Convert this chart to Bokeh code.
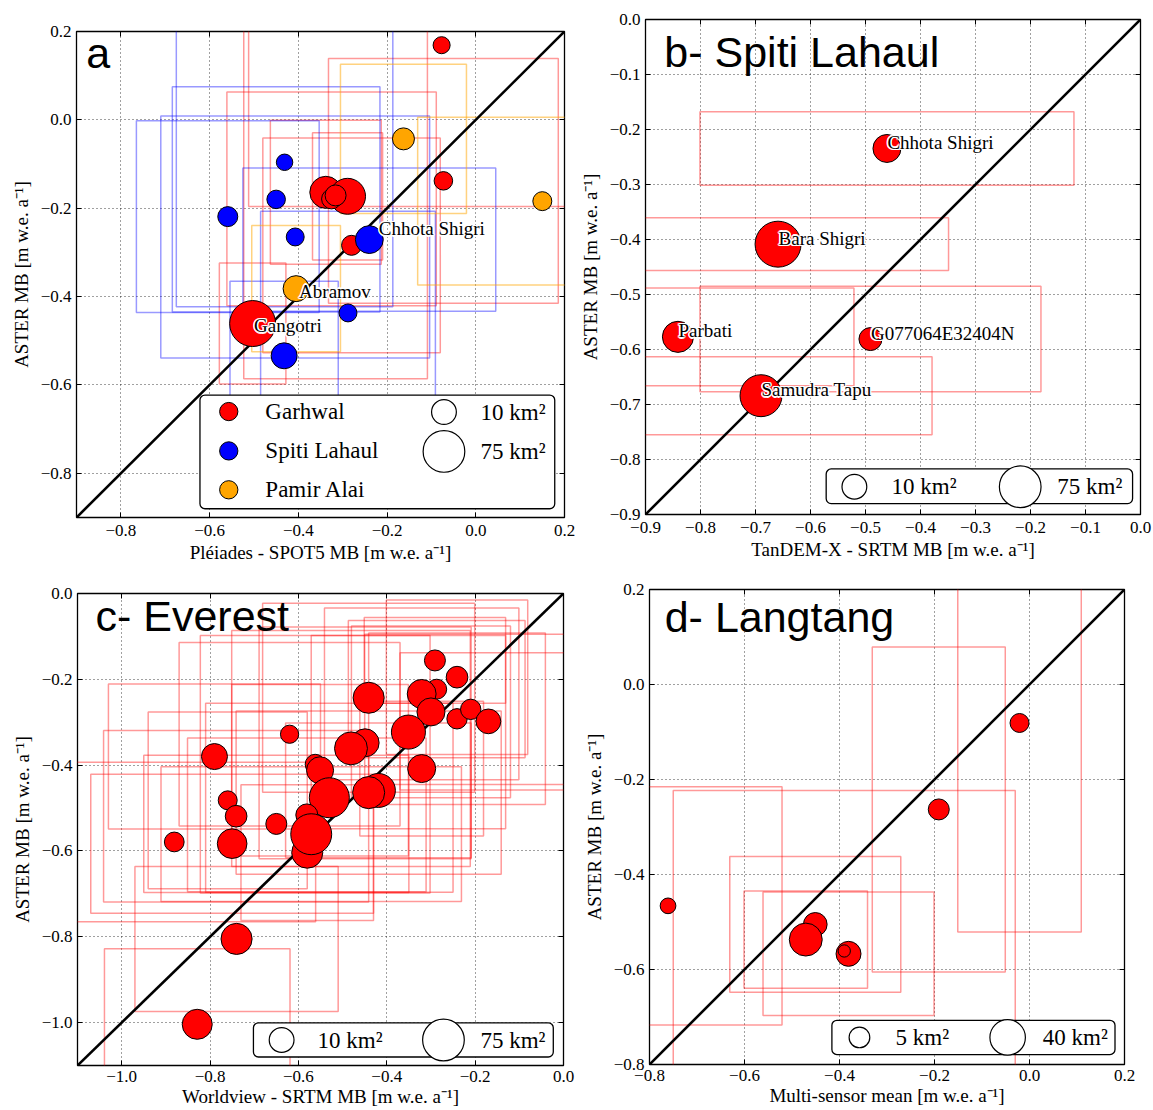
from bokeh.plotting import figure
from bokeh.models import Range1d, FixedTicker, CustomJSTickFormatter, LinearAxis
from bokeh.layouts import column, row
from bokeh.embed import file_html
from bokeh.resources import INLINE
from bokeh.core.properties import value

# ---------------- data ----------------
# (a) Pleiades - SPOT5 vs ASTER, three regions
a_garhwal_x = [-0.077, -0.073, -0.338, -0.289, -0.325, -0.316, -0.280, -0.503]
a_garhwal_y = [0.169, -0.138, -0.164, -0.173, -0.179, -0.171, -0.284, -0.461]
a_garhwal_ex = [0.435, 0.259, 0.125, 0.079, 0.236, 0.207, 0.200, 0.075]
a_garhwal_ey = [0.365, 0.277, 0.163, 0.144, 0.242, 0.415, 0.243, 0.137]
a_garhwal_area = [2.4, 3.3, 27.0, 42.0, 4.4, 5.3, 4.4, 110.0]

a_spiti_x = [-0.431, -0.450, -0.559, -0.407, -0.240, -0.288, -0.432]
a_spiti_y = [-0.096, -0.180, -0.219, -0.265, -0.271, -0.437, -0.534]
a_spiti_ex = [0.244, 0.234, 0.206, 0.303, 0.285, 0.197, 0.122]
a_spiti_ey = [0.327, 0.255, 0.217, 0.274, 0.162, 0.230, 0.169]
a_spiti_area = [2.1, 3.3, 4.4, 2.9, 15.7, 2.9, 12.0]

a_pamir_x = [-0.163, 0.150, -0.405]
a_pamir_y = [-0.043, -0.184, -0.382]
a_pamir_ex = [0.142, 0.281, 0.100]
a_pamir_ey = [0.169, 0.190, 0.143]
a_pamir_area = [6.3, 3.6, 12.0]

a_named = [("Chhota Shigri", "spiti", 4), ("Abramov", "pamir", 2), ("Gangotri", "garhwal", 7)]

# (b) Spiti Lahaul, TanDEM-X - SRTM vs ASTER
b_names = ["Chhota Shigri", "Bara Shigri", "Parbati", "G077064E32404N", "Samudra Tapu"]
b_x = [-0.461, -0.659, -0.841, -0.491, -0.690]
b_y = [-0.2345, -0.4085, -0.577, -0.581, -0.684]
b_ex = [0.340, 0.310, 0.320, 0.310, 0.311]
b_ey = [0.067, 0.048, 0.089, 0.096, 0.071]
b_area = [16.0, 110.0, 24.0, 7.5, 77.0]

# (c) Everest, Worldview - SRTM vs ASTER
c_x = [-0.291, -0.241, -0.287, -0.321, -0.441, -0.300, -0.241, -0.210, -0.170, -0.351,
       -0.620, -0.449, -0.481, -0.321, -0.562, -0.551, -0.419, -0.441, -0.530, -0.650,
       -0.580, -0.581, -0.571, -0.790, -0.760, -0.741, -0.881, -0.750, -0.740, -0.829]
c_y = [-0.156, -0.195, -0.223, -0.234, -0.243, -0.276, -0.292, -0.270, -0.298, -0.323,
       -0.328, -0.348, -0.361, -0.408, -0.398, -0.412, -0.459, -0.464, -0.476, -0.537,
       -0.604, -0.516, -0.561, -0.380, -0.482, -0.519, -0.579, -0.583, -0.805, -1.004]
c_ex = [0.16, 0.16, 0.20, 0.22, 0.24, 0.18, 0.20, 0.24, 0.20, 0.22,
        0.25, 0.24, 0.27, 0.14, 0.26, 0.20, 0.21, 0.30, 0.28, 0.30,
        0.15, 0.27, 0.34, 0.24, 0.18, 0.30, 0.32, 0.32, 0.23, 0.21]
c_ey = [0.100, 0.180, 0.160, 0.200, 0.220, 0.200, 0.200, 0.175, 0.160, 0.225,
        0.214, 0.270, 0.275, 0.157, 0.300, 0.200, 0.157, 0.190, 0.220, 0.160,
        0.158, 0.179, 0.157, 0.169, 0.206, 0.200, 0.186, 0.162, 0.169, 0.176]
c_area = [5.3, 6.0, 4.4, 18.0, 24.0, 16.0, 4.7, 4.7, 10.0, 34.0,
          3.1, 16.0, 30.0, 16.0, 4.4, 14.0, 34.0, 27.0, 64.0, 5.3,
          24.0, 6.3, 70.0, 12.0, 3.6, 6.0, 4.2, 20.0, 24.0, 21.0]

# (d) Langtang, multi-sensor mean vs ASTER
d_x = [-0.761, -0.021, -0.191, -0.451, -0.471, -0.381, -0.390]
d_y = [-0.466, -0.081, -0.263, -0.505, -0.537, -0.567, -0.561]
d_ex = [0.24, 0.13, 0.14, 0.18, 0.13, 0.18, 0.36]
d_ey = [0.251, 0.440, 0.342, 0.143, 0.1025, 0.130, 0.338]
d_area = [1.76, 3.6, 5.3, 8.4, 30.0, 10.3, 0.71]

# axis limits and ticks
a_lim = (-0.9, 0.2)
a_ticks = [-0.8, -0.6, -0.4, -0.2, 0.0, 0.2]
b_lim = (-0.9, 0.0)
b_ticks = [-0.9, -0.8, -0.7, -0.6, -0.5, -0.4, -0.3, -0.2, -0.1, 0.0]
c_lim = (-1.1, 0.0)
c_ticks = [-1.0, -0.8, -0.6, -0.4, -0.2, 0.0]
d_lim = (-0.8, 0.2)
d_ticks = [-0.8, -0.6, -0.4, -0.2, 0.0, 0.2]

y_label = "ASTER MB [m w.e. a\u207b\u00b9]"
a_xlabel = "Pl\u00e9iades - SPOT5 MB [m w.e. a\u207b\u00b9]"
b_xlabel = "TanDEM-X - SRTM MB [m w.e. a\u207b\u00b9]"
c_xlabel = "Worldview - SRTM MB [m w.e. a\u207b\u00b9]"
d_xlabel = "Multi-sensor mean [m w.e. a\u207b\u00b9]"

region_names = ["Garhwal", "Spiti Lahaul", "Pamir Alai"]
legend_areas_large = [10, 75]
legend_areas_small = [5, 40]

# ---------------- styling ----------------
SERIF = "Liberation Serif"
SANS = "Liberation Sans"
RED, BLUE, ORANGE = "#ff0000", "#0000ff", "#ffa500"


def marker_px(area):
    # marker diameter grows with the fourth root of glacier area
    return 14.5 * area ** 0.25 - 1.0


def at(lim, f):
    return lim[0] + f * (lim[1] - lim[0])


TICK_JS = """
const s = Math.abs(tick) < 1e-9 ? "0.0" : tick.toFixed(1);
return s.replace("-", "\u2212");
"""


def build_panel(lim, ticks, xlabel, width, height, borders, x_standoffs=(7, 3)):
    left, right, top, bottom = borders
    p = figure(width=width, height=height,
               x_range=Range1d(*lim), y_range=Range1d(*lim),
               output_backend="svg", toolbar_location=None, tools="",
               title=None,
               min_border_left=left, min_border_right=right,
               min_border_top=top, min_border_bottom=bottom,
               background_fill_color="white", border_fill_color="white")
    p.outline_line_color = "black"
    p.outline_line_width = 1.3
    xt = FixedTicker(ticks=ticks, minor_ticks=[])
    yt = FixedTicker(ticks=ticks, minor_ticks=[])
    fmt = CustomJSTickFormatter(code=TICK_JS)
    blank = CustomJSTickFormatter(code="return '';")
    for ax, t in ((p.xaxis[0], xt), (p.yaxis[0], yt)):
        ax.ticker = t
        ax.formatter = fmt
        ax.major_tick_in = 5
        ax.major_tick_out = 0
        ax.major_tick_line_color = "black"
        ax.minor_tick_line_color = None
        ax.axis_line_color = None
        ax.major_label_text_font = SERIF
        ax.major_label_text_font_size = "17px"
        ax.major_label_text_color = "black"
        ax.axis_label_text_font = SERIF
        ax.axis_label_text_font_size = "19px"
        ax.axis_label_text_font_style = "normal"
        ax.axis_label_text_color = "black"
    p.xaxis.axis_label = xlabel
    p.yaxis.axis_label = y_label
    p.xaxis.major_label_standoff = x_standoffs[0]
    p.xaxis.axis_label_standoff = x_standoffs[1]
    p.yaxis.major_label_standoff = 5
    p.yaxis.axis_label_standoff = 6
    for loc, t in (("above", xt), ("right", yt)):
        ax = LinearAxis(ticker=t, formatter=blank, major_tick_in=5, major_tick_out=0,
                        minor_tick_line_color=None, axis_line_color=None,
                        major_label_standoff=0, major_label_text_font_size="1px")
        p.add_layout(ax, loc)
    p.xgrid.ticker = xt
    p.ygrid.ticker = yt
    p.grid.grid_line_color = "black"
    p.grid.grid_line_dash = "1 3"
    p.grid.grid_line_alpha = 0.75
    p.grid.grid_line_width = 1
    return p


def draw_boxes(p, xs, ys, exs, eys, color, alpha):
    p.quad(left=[x - e for x, e in zip(xs, exs)], right=[x + e for x, e in zip(xs, exs)],
           bottom=[y - e for y, e in zip(ys, eys)], top=[y + e for y, e in zip(ys, eys)],
           fill_color=None, line_color=color, line_alpha=alpha, line_width=1.5)


def draw_points(p, xs, ys, areas, color):
    p.scatter(xs, ys, size=[marker_px(a) for a in areas], marker="circle",
              fill_color=color, line_color="black", line_width=1)


def diagonal(p, lim):
    p.line([lim[0], lim[1]], [lim[0], lim[1]], line_color="black", line_width=2.6)


HALO = [(-1.5, 0), (1.5, 0), (0, -1.5), (0, 1.5), (-1.1, -1.1), (1.1, -1.1), (-1.1, 1.1), (1.1, 1.1)]


def glacier_label(p, x, y, text, dx=0, dy=0):
    for hx, hy in HALO:
        p.text([x], [y], text=[text], x_offset=dx + hx, y_offset=dy + hy,
               text_font=value(SERIF), text_font_size="19px", text_color="white",
               text_align="left", text_baseline="middle")
    p.text([x], [y], text=[text], x_offset=dx, y_offset=dy,
           text_font=value(SERIF), text_font_size="19px", text_color="black",
           text_align="left", text_baseline="middle")


def panel_title(p, lim, fx, fy, text):
    p.text([at(lim, fx)], [at(lim, fy)], text=[text], text_font=value(SANS),
           text_font_size="43px", text_color="black",
           text_align="left", text_baseline="middle")


def legend_box(p, lim, fx0, fx1, fy0, fy1):
    p.quad(left=[at(lim, fx0)], right=[at(lim, fx1)], bottom=[at(lim, fy0)], top=[at(lim, fy1)],
           fill_color="white", line_color="black", line_width=1.3, border_radius=5)


def legend_text(p, lim, fx, fy, text):
    p.text([at(lim, fx)], [at(lim, fy)], text=[text], text_font=value(SERIF),
           text_font_size="23px", text_color="black",
           text_align="left", text_baseline="middle")


def size_legend(p, lim, areas, fy, mfx, tfx):
    for a, mx, tx in zip(areas, mfx, tfx):
        p.scatter([at(lim, mx)], [at(lim, fy)], size=marker_px(a), marker="circle",
                  fill_color="white", line_color="black", line_width=1.2)
        legend_text(p, lim, tx, fy, f"{a} km\u00b2")


# ---------------- panel a ----------------
pa = build_panel(a_lim, a_ticks, a_xlabel, 576, 570, (76, 12, 31, 53))
draw_boxes(pa, a_garhwal_x, a_garhwal_y, a_garhwal_ex, a_garhwal_ey, RED, 0.4)
draw_boxes(pa, a_spiti_x, a_spiti_y, a_spiti_ex, a_spiti_ey, BLUE, 0.4)
draw_boxes(pa, a_pamir_x, a_pamir_y, a_pamir_ex, a_pamir_ey, ORANGE, 0.5)
diagonal(pa, a_lim)
draw_points(pa, a_garhwal_x, a_garhwal_y, a_garhwal_area, RED)
draw_points(pa, a_spiti_x, a_spiti_y, a_spiti_area, BLUE)
draw_points(pa, a_pamir_x, a_pamir_y, a_pamir_area, ORANGE)
a_sets = {"garhwal": (a_garhwal_x, a_garhwal_y), "spiti": (a_spiti_x, a_spiti_y),
          "pamir": (a_pamir_x, a_pamir_y)}
a_label_shift = {"Chhota Shigri": (9.5, -11), "Abramov": (3, 2.5), "Gangotri": (1.5, 2)}
for name, grp, i in a_named:
    xs, ys = a_sets[grp]
    dx, dy = a_label_shift[name]
    glacier_label(pa, xs[i], ys[i], name, dx, dy)
panel_title(pa, a_lim, 0.02, 0.956, "a")
legend_box(pa, a_lim, 0.253, 0.98, 0.018, 0.252)
for name, col, fy in zip(region_names, [RED, BLUE, ORANGE], [0.218, 0.137, 0.057]):
    pa.scatter([at(a_lim, 0.312)], [at(a_lim, fy)], size=18.3, marker="circle",
               fill_color=col, line_color="black", line_width=1)
    legend_text(pa, a_lim, 0.387, fy, name)
for a, fy in zip(legend_areas_large, [0.217, 0.136]):
    pa.scatter([at(a_lim, 0.753)], [at(a_lim, fy)], size=marker_px(a), marker="circle",
               fill_color="white", line_color="black", line_width=1.2)
    legend_text(pa, a_lim, 0.828, fy, f"{a} km\u00b2")

# ---------------- panel b ----------------
pb = build_panel(b_lim, b_ticks, b_xlabel, 577, 570, (69, 13, 19, 56))
draw_boxes(pb, b_x, b_y, b_ex, b_ey, RED, 0.4)
diagonal(pb, b_lim)
draw_points(pb, b_x, b_y, b_area, RED)
for name, x, y in zip(b_names, b_x, b_y):
    glacier_label(pb, x, y, name, 0.5, -6)
panel_title(pb, b_lim, 0.038, 0.935, "b- Spiti Lahaul")
legend_box(pb, b_lim, 0.365, 0.984, 0.022, 0.092)
size_legend(pb, b_lim, legend_areas_large, 0.056, [0.422, 0.757], [0.497, 0.832])

# ---------------- panel c ----------------
pc = build_panel(c_lim, c_ticks, c_xlabel, 576, 540, (77, 13, 23, 45), x_standoffs=(5, 1))
draw_boxes(pc, c_x, c_y, c_ex, c_ey, RED, 0.4)
diagonal(pc, c_lim)
draw_points(pc, c_x, c_y, c_area, RED)
panel_title(pc, c_lim, 0.037, 0.952, "c- Everest")
legend_box(pc, c_lim, 0.362, 0.979, 0.018, 0.0905)
size_legend(pc, c_lim, legend_areas_large, 0.054, [0.42, 0.753], [0.494, 0.829])

# ---------------- panel d ----------------
pd_ = build_panel(d_lim, d_ticks, d_xlabel, 577, 540, (73, 29, 19, 46), x_standoffs=(5, 1))
draw_boxes(pd_, d_x, d_y, d_ex, d_ey, RED, 0.4)
diagonal(pd_, d_lim)
draw_points(pd_, d_x, d_y, d_area, RED)
panel_title(pd_, d_lim, 0.032, 0.942, "d- Langtang")
legend_box(pd_, d_lim, 0.384, 0.98, 0.021, 0.093)
size_legend(pd_, d_lim, legend_areas_small, 0.057, [0.442, 0.754], [0.518, 0.828])

# each panel sits in its own box so its frame keeps its own margins
layout = column(row(column(pa), column(pb)), row(column(pc), column(pd_)))
open("out.html", "w").write(file_html(layout, INLINE))
